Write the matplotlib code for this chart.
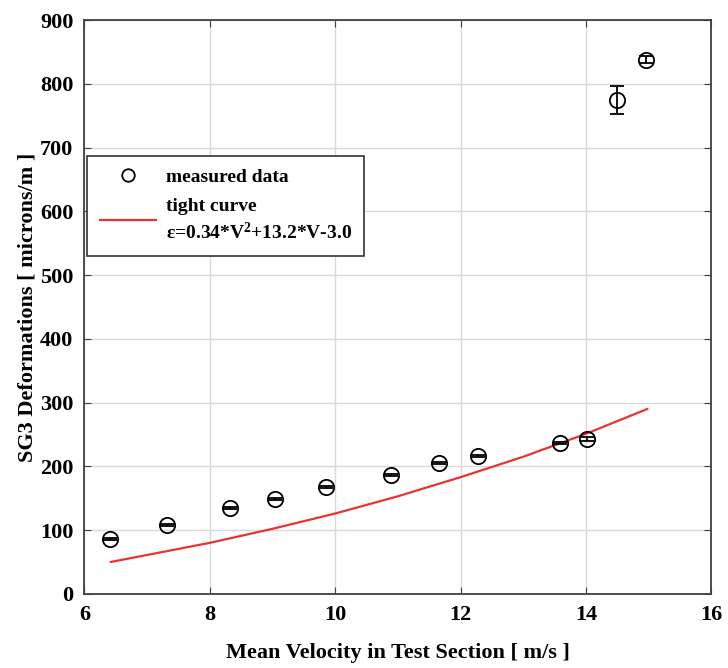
import matplotlib
matplotlib.use("Agg")
import matplotlib.pyplot as plt
from matplotlib.lines import Line2D
import numpy as np

# measured data
velocity = [6.40, 7.32, 8.32, 9.04, 9.85, 10.89, 11.66, 12.28, 13.58, 14.01, 14.49, 14.96]
deformation = [86, 108, 134, 149, 167, 187, 205, 216, 236, 243, 775, 838]
yerr = [1.5, 1.5, 1.5, 1.5, 1.5, 1.5, 1.5, 1.5, 1.5, 3, 22, 5]

# fitted curve
curve_v = [6.42, 7.0, 8.0, 9.0, 10.0, 11.0, 12.0, 13.0, 14.0, 14.98]
curve_e = [50, 61, 80, 102, 126, 153, 183, 215, 251, 290]

xticks = [6, 8, 10, 12, 14, 16]
yticks = [0, 100, 200, 300, 400, 500, 600, 700, 800, 900]

plt.rcParams['font.family'] = ['Liberation Serif', 'DejaVu Serif']
plt.rcParams['font.weight'] = 'bold'
plt.rcParams['mathtext.fontset'] = 'custom'
plt.rcParams['mathtext.rm'] = 'Liberation Serif:bold'
plt.rcParams['mathtext.bf'] = 'Liberation Serif:bold'
plt.rcParams['mathtext.it'] = 'Liberation Serif:bold'

fig = plt.figure(figsize=(7.28, 6.68), dpi=100)
ax = fig.add_axes([0.116, 0.111, 0.861, 0.859])

ax.errorbar(velocity, deformation, yerr=yerr, fmt='o', mfc='none', mec='black',
            ecolor='black', ms=11, mew=1.3, elinewidth=1.3, capsize=5, capthick=1.3,
            zorder=3)
ax.plot(curve_v, curve_e, color='#e83333', lw=1.6, zorder=2)

handles = [Line2D([], [], ls='none', marker='o', mfc='none', mec='black', ms=9, mew=1.3),
           Line2D([], [], color='#e83333', lw=1.6)]
labels = ['measured data', 'tight curve\n\u03b5=0.34*V$^{\\mathbf{2}}$+13.2*V-3.0']

ax.set_xlim(6, 16)
ax.set_ylim(0, 900)
ax.set_xticks(xticks)
ax.set_yticks(yticks)
ax.grid(True, color='#d9d9d9', lw=1.0)
ax.set_axisbelow(True)
ax.tick_params(direction='in', top=True, right=True, labelsize=16, length=5,
               color='#404040', pad=8)
for lab in ax.get_xticklabels() + ax.get_yticklabels():
    lab.set_fontweight('bold')
for s in ax.spines.values():
    s.set_color('#404040')
    s.set_linewidth(1.3)

ax.set_xlabel('Mean Velocity in Test Section [ m/s ]', fontsize=16, fontweight='bold', labelpad=13)
ax.set_ylabel('SG3 Deformations [ microns/m ]', fontsize=16, fontweight='bold', labelpad=2)

leg = ax.legend(handles, labels, loc='upper left', bbox_to_anchor=(0.004, 0.763), fontsize=14,
                fancybox=False, framealpha=1, edgecolor='#333333', borderaxespad=0,
                handlelength=2.9, handletextpad=0.5, borderpad=0.65, labelspacing=0.6)
leg.get_frame().set_linewidth(1.2)
for t in leg.get_texts():
    t.set_fontweight('bold')
    t.set_linespacing(1.4)

fig.savefig('out.png', dpi=100)
